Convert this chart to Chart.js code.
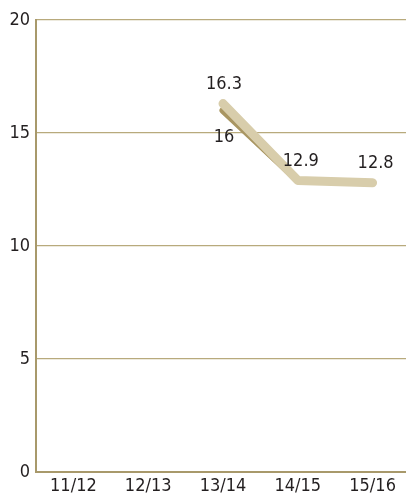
<!DOCTYPE html>
<html><head><meta charset="utf-8">
<script src="https://cdn.jsdelivr.net/npm/chart.js@4/dist/chart.umd.min.js"></script>
<style>
html,body{margin:0;padding:0;background:#fff;overflow:hidden;}
#wrap{width:410px;height:498px;position:relative;}
</style></head>
<body><div id="wrap"><canvas id="c"></canvas></div>
<script>
const categories = ["11/12","12/13","13/14","14/15","15/16"];
const seriesLight = [null, null, 16.3, 12.9, 12.8];
const seriesDark = [null, null, 16, 12.9, null];
const yTicks = [0,5,10,15,20];
const labelsLight = ["", "", "16.3", "12.9", "12.8"];
const labelsDark = ["", "", "16", "", ""];

const FONT = "'Liberation Sans Narrow','DejaVu Sans Condensed',Roboto,sans-serif";

const labelPlugin = {
  id: 'vlabels',
  afterDatasetsDraw(chart) {
    const ctx = chart.ctx;
    ctx.save();
    ctx.font = "18px " + FONT;
    ctx.fillStyle = "#231f20";
    ctx.textAlign = "center";
    ctx.textBaseline = "middle";
    const x = chart.scales.x, y = chart.scales.y;
    seriesLight.forEach((v,i)=>{
      if (v==null || !labelsLight[i]) return;
      ctx.fillText(labelsLight[i], x.getPixelForValue(i) + (i>2?3:1), y.getPixelForValue(v) - (i>2?19:19));
    });
    seriesDark.forEach((v,i)=>{
      if (v==null || !labelsDark[i]) return;
      ctx.fillText(labelsDark[i], x.getPixelForValue(i) + 1, y.getPixelForValue(v) + 27);
    });
    ctx.restore();
  }
};

new Chart(document.getElementById('c'), {
  type: 'line',
  data: {
    labels: categories,
    datasets: [
      { data: seriesDark, order: 2, borderColor: '#a99662', borderWidth: 7, pointRadius: 0, borderCapStyle: 'round', borderJoinStyle: 'round', tension: 0 },
      { data: seriesLight, order: 1, borderColor: '#d8cdab', borderWidth: 9, pointRadius: 0, borderCapStyle: 'round', borderJoinStyle: 'round', tension: 0 }
    ]
  },
  options: {
    responsive: true,
    maintainAspectRatio: false,
    animation: false,
    layout: { padding: { top: 20, right: 0, bottom: 0, left: 0 } },
    plugins: { legend: { display: false }, tooltip: { enabled: false } },
    scales: {
      x: {
        offset: true,
        grid: { display: false, drawTicks: false },
        border: { color: '#a8996b', width: 2 },
        ticks: { color: '#231f20', font: { size: 18, family: FONT }, padding: 4, maxRotation: 0 },
        afterFit(s) { s.height = 26; }
      },
      y: {
        min: 0, max: 20,
        afterBuildTicks(s) { s.ticks = yTicks.map(v => ({ value: v })); },
        grid: { color: '#b8aa7c', lineWidth: 1.2, drawTicks: false },
        border: { color: '#a8996b', width: 2 },
        ticks: { color: '#231f20', font: { size: 18, family: FONT }, padding: 6 },
        afterFit(s) { s.width = 36; }
      }
    }
  },
  plugins: [labelPlugin]
});
</script></body></html>
